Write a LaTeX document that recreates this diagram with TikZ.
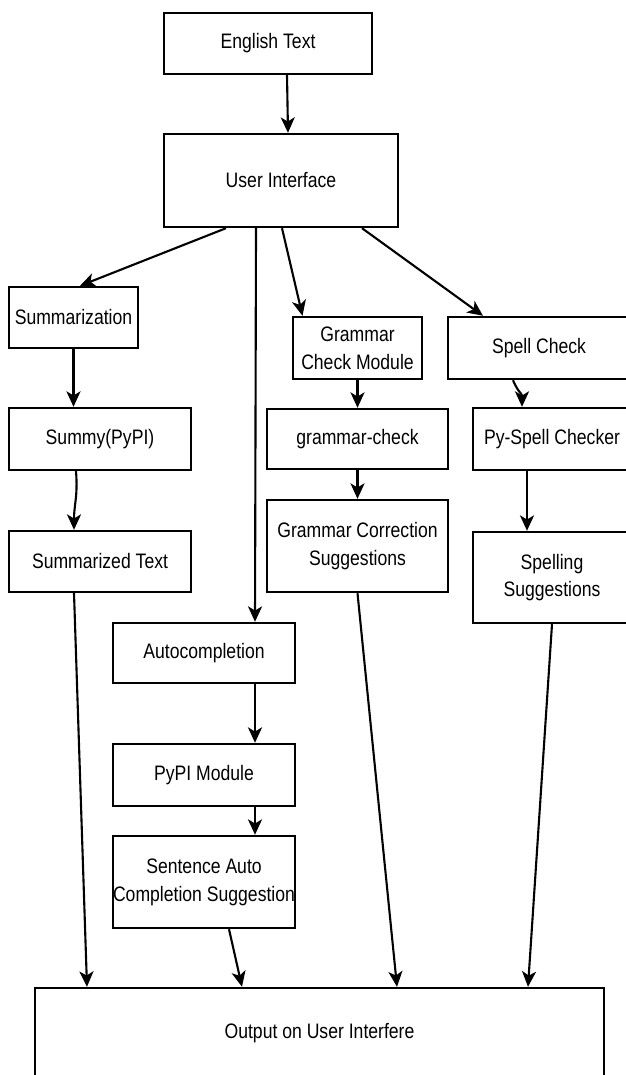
\documentclass[tikz,border=0pt]{standalone}
\usepackage{fontspec}
\setmainfont{Liberation Sans}[FakeStretch=0.84]
\usetikzlibrary{arrows.meta,calc}

\begin{document}
\begin{tikzpicture}[
        x=0.025cm, y=-0.025cm,
        every node/.style={font=\fontsize{14.9}{19.7}\selectfont},
        procbox/.style={rectangle, draw=black, line width=1.7pt, fill=white, align=center, inner xsep=0pt, minimum width=4.55cm, minimum height=1.525cm},
        arrow/.style={-{Stealth[length=11pt,width=10pt,inset=3pt]}, line width=1.5pt, draw=black}
        ]
        \useasboundingbox (0,0) rectangle (625,1075);

        % Input and front end
        \node[procbox, minimum width=5.2cm] (eng) at (268,43.5) {English Text};
        \node[procbox, minimum width=5.85cm, minimum height=2.325cm] (ui) at (281,180.5) {User Interface};

        % Summarization branch
        \node[procbox, minimum width=3.225cm] (summ) at (73.5,317.5) {Summarization};
        \node[procbox, minimum height=1.55cm] (summy) at (100,439) {Summy(PyPI)};
        \node[procbox] (sumtext) at (100,561.5) {Summarized Text};

        % Grammar branch
        \node[procbox, minimum width=3.225cm, minimum height=1.55cm] (gcm) at (357.5,348) {Grammar\\Check Module};
        \node[procbox, minimum width=4.525cm, minimum height=1.5cm] (gcheck) at (357.5,439) {grammar-check};
        \node[procbox, minimum width=4.525cm, minimum height=2.3cm] (gsugg) at (357.5,546) {Grammar Correction\\Suggestions};

        % Spell check branch
        \node[procbox, minimum height=1.55cm] (spell) at (539,348) {Spell Check};
        \node[procbox, minimum width=3.95cm, minimum height=1.55cm] (pyspell) at (552,439) {Py-Spell Checker};
        \node[procbox, minimum width=3.95cm, minimum height=2.275cm] (spsugg) at (552,577.5) {Spelling\\Suggestions};

        % Autocompletion branch
        \node[procbox, minimum height=1.5cm] (auto) at (204,653) {Autocompletion};
        \node[procbox, minimum height=1.55cm] (pypi) at (204,775) {PyPI Module};
        \node[procbox, minimum height=2.3cm] (sent) at (204,882) {Sentence Auto\\Completion Suggestion};

        \node[procbox, minimum width=14.225cm, minimum height=2.25cm] (out) at (319.5,1033) {Output on User Interfere};

        % Connections
        \draw[arrow] ($(eng.south)+(19,0)$) -- ($(ui.north)+(7,0)$);
        \draw[arrow] ($(ui.south)+(-55,0)$) -- ($(summ.north)+(6.5,0)$);
        \draw[arrow] ($(ui.south)+(-25,0)$) -- ($(auto.north)+(51,0)$);
        \draw[arrow] ($(ui.south)+(1,0)$) -- ($(gcm.north)+(-55,0)$);
        \draw[arrow] ($(ui.south)+(81,0)$) -- ($(spell.north)+(-56,0)$);

        \draw[arrow] (summ.south) -- (summy.north -| summ.south);
        \draw[arrow] ($(summy.south)+(-24,0)$) .. controls +(2,25) and +(0,-25) .. ($(sumtext.north)+(-26,0)$);
        \draw[arrow] ($(sumtext.south)+(-26,0)$) -- ($(out.north)+(-232.5,0)$);

        \draw[arrow] (gcm) -- (gcheck);
        \draw[arrow] (gcheck) -- (gsugg);
        \draw[arrow] (gsugg.south) -- ($(out.north)+(77.5,0)$);

        \draw[arrow] ($(spell.south)+(-26,0)$) .. controls +(6,14) and +(0,-14) .. ($(pyspell.north)+(-30,0)$);
        \draw[arrow] ($(pyspell.south)+(-25,0)$) -- ($(spsugg.north)+(-25,0)$);
        \draw[arrow] (spsugg.south) -- ($(out.north)+(208.5,0)$);

        \draw[arrow] ($(auto.south)+(51,0)$) -- ($(pypi.north)+(51,0)$);
        \draw[arrow] ($(pypi.south)+(51,0)$) -- ($(sent.north)+(51,0)$);
        \draw[arrow] ($(sent.south)+(25,0)$) -- ($(out.north)+(-77.5,0)$);

    \end{tikzpicture}
\end{document}
